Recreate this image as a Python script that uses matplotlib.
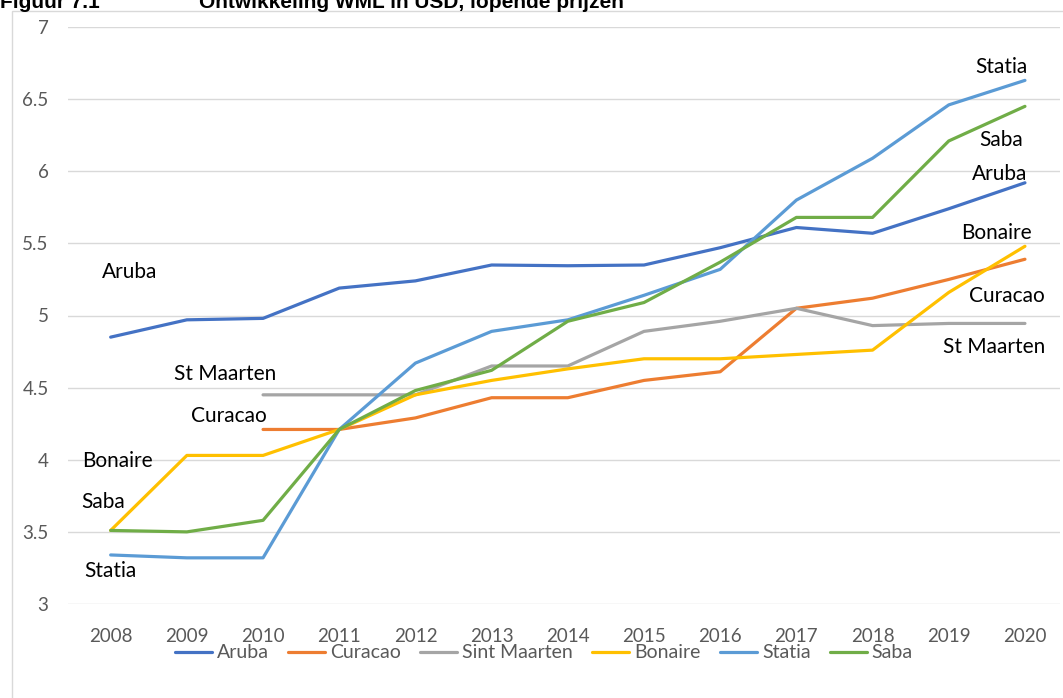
import matplotlib
matplotlib.use("Agg")
import matplotlib.pyplot as plt
from matplotlib.patches import Rectangle
import numpy as np

plt.rcParams['font.family'] = ['Lato', 'DejaVu Sans']

years = list(range(2008, 2021))
aruba = [4.85, 4.97, 4.98, 5.19, 5.24, 5.35, 5.345, 5.35, 5.47, 5.61, 5.57, 5.74, 5.92]
curacao = [None, None, 4.21, 4.21, 4.29, 4.43, 4.43, 4.55, 4.61, 5.05, 5.12, 5.25, 5.39]
sint_maarten = [None, None, 4.45, 4.45, 4.45, 4.65, 4.65, 4.89, 4.96, 5.05, 4.93, 4.945, 4.945]
bonaire = [3.51, 4.03, 4.03, 4.21, 4.45, 4.55, 4.63, 4.70, 4.70, 4.73, 4.76, 5.16, 5.48]
statia = [3.34, 3.32, 3.32, 4.21, 4.67, 4.89, 4.97, 5.14, 5.32, 5.80, 6.09, 6.46, 6.63]
saba = [3.51, 3.50, 3.58, 4.21, 4.48, 4.62, 4.96, 5.09, 5.37, 5.68, 5.68, 6.21, 6.45]

series_names = ['Aruba', 'Curacao', 'Sint Maarten', 'Bonaire', 'Statia', 'Saba']
series_values = [aruba, curacao, sint_maarten, bonaire, statia, saba]
colors = ['#4472C4', '#ED7D31', '#A5A5A5', '#FFC000', '#5B9BD5', '#70AD47']

y_ticks = [3, 3.5, 4, 4.5, 5, 5.5, 6, 6.5, 7]
y_tick_labels = ['3', '3.5', '4', '4.5', '5', '5.5', '6', '6.5', '7']

W, H = 1063, 698
fig = plt.figure(figsize=(W / 100, H / 100), dpi=100)

# outer chart border
fig.patches.append(Rectangle((12 / W, -0.1), 1.1, 1 - 11 / H + 0.1, transform=fig.transFigure,
                             fill=False, edgecolor='#d9d9d9', linewidth=1.0))

ax = fig.add_axes([68 / W, 1 - 604 / H, (1060 - 68) / W, (604 - 27) / H])
for name, vals, c in zip(series_names, series_values, colors):
    y = np.array([np.nan if v is None else v for v in vals], dtype=float)
    ax.plot(years, y, color=c, linewidth=2.3, label=name, solid_capstyle='round')

ax.set_xlim(2007.44, 2020.46)
ax.set_ylim(3, 7)
ax.set_yticks(y_ticks)
ax.set_yticklabels(y_tick_labels)
ax.set_xticks(years)
ax.set_xticklabels([str(y) for y in years])
ax.grid(axis='y', color='#d9d9d9', linewidth=1.0)
ax.set_axisbelow(True)
for s in ax.spines.values():
    s.set_visible(False)
ax.tick_params(axis='both', length=0, labelsize=13.5, labelcolor='#595959')
ax.tick_params(axis='y', pad=14)
ax.tick_params(axis='x', pad=17)

# annotations (data coords)
def lab(x, y, t, ha='left'):
    ax.text(x, y, t, fontsize=15, color='black', ha=ha, va='center')

lab(2007.88, 5.30, 'Aruba')
lab(2008.83, 4.595, 'St Maarten')
lab(2009.06, 4.30, 'Curacao')
lab(2007.63, 3.99, 'Bonaire')
lab(2007.62, 3.71, 'Saba')
lab(2007.66, 3.23, 'Statia')
lab(2020.03, 6.72, 'Statia', ha='right')
lab(2019.98, 6.22, 'Saba', ha='right')
lab(2020.03, 5.98, 'Aruba', ha='right')
lab(2020.09, 5.57, 'Bonaire', ha='right')
lab(2020.26, 5.135, 'Curacao', ha='right')
lab(2020.26, 4.78, 'St Maarten', ha='right')

# title (partially cut at top like the reference)
fig.text(0 / W, 1 - 8 / H, 'Figuur 7.1', fontsize=15, fontweight='bold',
         family='Liberation Sans', va='baseline', ha='left')
fig.text(199 / W, 1 - 8 / H, 'Ontwikkeling WML in USD, lopende prijzen', fontsize=15,
         fontweight='bold', family='Liberation Sans', va='baseline', ha='left')

leg = fig.legend(loc='center', bbox_to_anchor=(544 / W, 1 - 653 / H), ncol=6, frameon=False,
                 fontsize=14, handlelength=1.9, handletextpad=0.25, columnspacing=1.0)
for t in leg.get_texts():
    t.set_color('#595959')

fig.savefig('out.png', dpi=100)
